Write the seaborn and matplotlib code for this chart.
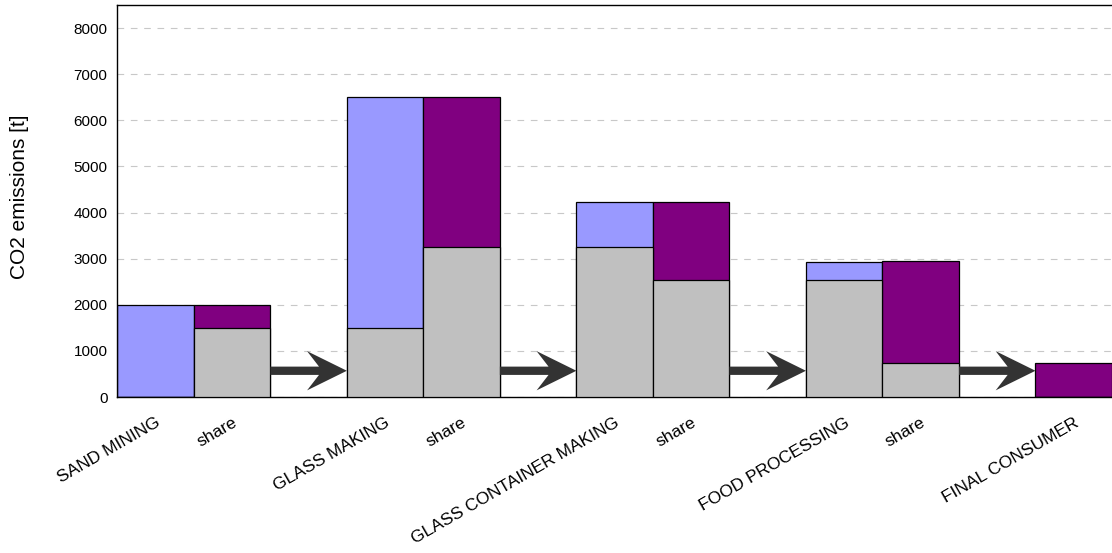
import numpy as np
import pandas as pd
import matplotlib
matplotlib.use('Agg')
import matplotlib.pyplot as plt
import seaborn as sns
from matplotlib.patches import FancyArrow

# --- Datos ---
STAGES = ['SAND MINING', 'share', 'GLASS MAKING', 'share', 'GLASS CONTAINER MAKING',
          'share', 'FOOD PROCESSING', 'share', 'FINAL CONSUMER']
SLOTS = [0, 1, 3, 4, 6, 7, 9, 10, 12]          # posiciones en el eje (huecos para flechas)
ARROW_SLOTS = [2, 5, 8, 11]
BASE = [0, 1500, 1500, 3250, 3250, 2530, 2530, 730, 0]          # parte gris (heredada)
ADDED = [2000, 500, 5000, 3250, 980, 1700, 400, 2210, 730]      # parte superior
KIND = ['process', 'share', 'process', 'share', 'process', 'share', 'process', 'share', 'share']

COLORES = {'process': '#9999FF', 'share': '#800080'}
GRIS = '#C0C0C0'

sns.set_style('white')
plt.rcParams['font.family'] = ['Liberation Sans', 'DejaVu Sans']
plt.rcParams['text.color'] = 'black'
plt.rcParams['axes.labelcolor'] = 'black'
plt.rcParams['xtick.color'] = 'black'
plt.rcParams['ytick.color'] = 'black'

df = pd.DataFrame({'slot': SLOTS, 'base': BASE, 'added': ADDED, 'kind': KIND})
df['total'] = df['base'] + df['added']

fig = plt.figure(figsize=(11.12, 5.53), dpi=100)
ax = fig.add_axes([0.1055, 0.282, 0.8945, 0.709])

orden = list(range(13))
# barras totales (color superior) y encima la parte gris
sns.barplot(data=df, x='slot', y='total', hue='kind', palette=COLORES, order=orden,
            dodge=False, width=1.0, saturation=1, edgecolor='black', linewidth=0.9,
            errorbar=None, legend=False, ax=ax, zorder=2)
sns.barplot(data=df, x='slot', y='base', color=GRIS, order=orden, saturation=1,
            width=1.0, edgecolor='black', linewidth=0.9,
            errorbar=None, ax=ax, zorder=3)

# flechas entre etapas
for s in ARROW_SLOTS:
    ax.add_patch(FancyArrow(s - 0.5, 570, 1.0, 0, width=180, head_width=850,
                            head_length=0.52, overhang=0.3, length_includes_head=True,
                            color='#333333', lw=0, zorder=4))

ax.set_xlim(-0.5, 12.5)
ax.set_ylim(0, 8500)
ax.set_yticks(np.arange(0, 8001, 1000))
ax.yaxis.grid(True, linestyle=(0, (6, 6)), color='#C8C8C8', linewidth=0.8)
ax.set_axisbelow(True)

ax.set_xticks(SLOTS)
ax.set_xticklabels(STAGES, rotation=30, ha='right', rotation_mode='anchor', fontsize=12.5)
ax.set_xticks(np.arange(-0.5, 13, 1), minor=True)
ax.tick_params(axis='x', which='major', length=0, pad=13)
ax.tick_params(axis='x', which='minor', length=5, width=0.8, color='#444444')
ax.tick_params(axis='y', length=4, width=0.8, labelsize=11, color='#444444', pad=3)

ax.set_xlabel('')
ax.set_ylabel('CO2 emissions [t]', fontsize=15)
ax.yaxis.set_label_coords(-0.089, 0.51)

for lado in ['left', 'top', 'bottom']:
    ax.spines[lado].set_color('black')
    ax.spines[lado].set_linewidth(1.0)
ax.spines['right'].set_visible(False)

fig.savefig('out.png', dpi=100)
